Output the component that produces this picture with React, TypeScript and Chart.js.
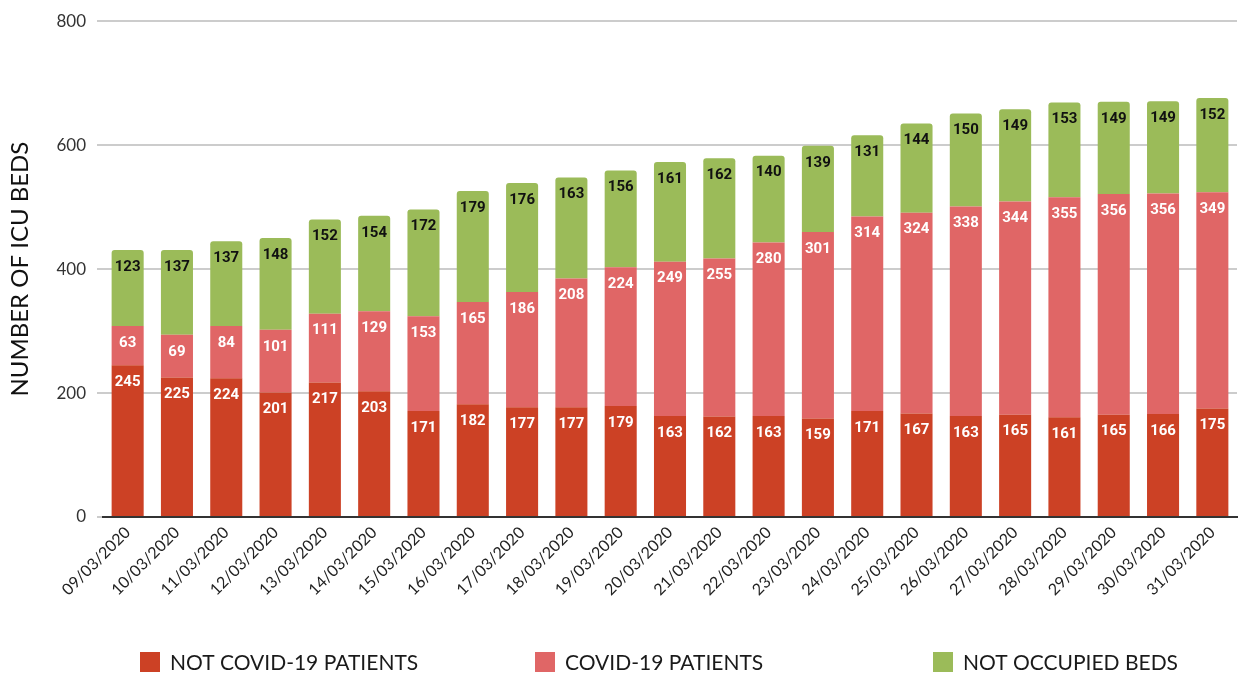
import React, { useEffect, useRef } from "react";
import { Chart, registerables } from "chart.js";
Chart.register(...registerables);

const categories = [
  "09/03/2020", "10/03/2020", "11/03/2020", "12/03/2020", "13/03/2020", "14/03/2020",
  "15/03/2020", "16/03/2020", "17/03/2020", "18/03/2020", "19/03/2020", "20/03/2020",
  "21/03/2020", "22/03/2020", "23/03/2020", "24/03/2020", "25/03/2020", "26/03/2020",
  "27/03/2020", "28/03/2020", "29/03/2020", "30/03/2020", "31/03/2020",
];
const notCovid = [245, 225, 224, 201, 217, 203, 171, 182, 177, 177, 179, 163, 162, 163, 159, 171, 167, 163, 165, 161, 165, 166, 175];
const covid = [63, 69, 84, 101, 111, 129, 153, 165, 186, 208, 224, 249, 255, 280, 301, 314, 324, 338, 344, 355, 356, 356, 349];
const notOccupied = [123, 137, 137, 148, 152, 154, 172, 179, 176, 163, 156, 161, 162, 140, 139, 131, 144, 150, 149, 153, 149, 149, 152];
const seriesNames = ["NOT COVID-19 PATIENTS", "COVID-19 PATIENTS", "NOT OCCUPIED BEDS"];
const seriesColors = ["#CC4125", "#E06666", "#9BBB59"];
const labelColors = ["#ffffff", "#ffffff", "#111111"];
const yTitle = "NUMBER OF ICU BEDS";
const yMax = 800;
const yStep = 200;

const valueLabels = {
  id: "valueLabels",
  afterDatasetsDraw(chart: any) {
    const ctx = chart.ctx;
    ctx.save();
    ctx.font = "bold 15px Roboto";
    ctx.textAlign = "center";
    ctx.textBaseline = "middle";
    chart.data.datasets.forEach((ds: any, di: number) => {
      const meta = chart.getDatasetMeta(di);
      meta.data.forEach((el: any, i: number) => {
        ctx.fillStyle = labelColors[di];
        ctx.fillText(String(ds.data[i]), el.x, el.y + 17);
      });
    });
    ctx.restore();
  },
};

const legendPlugin = {
  id: "customLegend",
  afterDraw(chart: any) {
    const ctx = chart.ctx;
    const xs = [140, 535, 933];
    const y = 662;
    ctx.save();
    ctx.font = "21px Lato";
    ctx.textBaseline = "middle";
    ctx.textAlign = "left";
    seriesNames.forEach((n, i) => {
      ctx.fillStyle = seriesColors[i];
      ctx.fillRect(xs[i], y - 10, 20, 20);
      ctx.fillStyle = "#1a1a1a";
      ctx.fillText(n, xs[i] + 30, y + 1);
    });
    ctx.restore();
  },
};

export default function App() {
  const ref = useRef<HTMLCanvasElement>(null);
  useEffect(() => {
    document.body.style.margin = "0";
    const chart = new Chart(ref.current!, {
      type: "bar",
      data: {
        labels: categories,
        datasets: [
          { label: seriesNames[0], data: notCovid, backgroundColor: seriesColors[0] },
          { label: seriesNames[1], data: covid, backgroundColor: seriesColors[1] },
          {
            label: seriesNames[2],
            data: notOccupied,
            backgroundColor: seriesColors[2],
            borderRadius: { topLeft: 3, topRight: 3, bottomLeft: 0, bottomRight: 0 },
            borderSkipped: "bottom",
          },
        ],
      },
      options: {
        animation: false,
        responsive: false,
        maintainAspectRatio: false,
        datasets: { bar: { barPercentage: 0.65, categoryPercentage: 1 } },
        layout: { padding: { top: 14, right: 6, bottom: 57, left: 0 } },
        plugins: { legend: { display: false }, tooltip: { enabled: false } },
        scales: {
          x: {
            stacked: true,
            grid: { display: false, drawTicks: false },
            border: { color: "#333333", width: 2 },
            ticks: {
              font: { family: "Lato", size: 16 },
              color: "#222222",
              minRotation: 45,
              maxRotation: 45,
              padding: 6,
              autoSkip: false,
            },
            afterFit: (s: any) => { s.height = 100; },
          },
          y: {
            stacked: true,
            min: 0,
            max: yMax,
            grid: { color: "#cccccc", lineWidth: 2, drawTicks: true, tickLength: 6, tickColor: "#cccccc" },
            border: { display: false },
            ticks: {
              stepSize: yStep,
              font: { family: "Lato", size: 17 },
              color: "#333333",
              padding: 11,
            },
            title: {
              display: true,
              text: yTitle,
              font: { family: "Lato", size: 24 },
              color: "#111111",
              padding: { top: 6, bottom: 0 },
            },
            afterFit: (s: any) => { s.width = 103; },
          },
        },
      },
      plugins: [valueLabels, legendPlugin],
    });
    return () => chart.destroy();
  }, []);
  return (
    <div style={{ width: 1243, height: 674 }}>
      <canvas ref={ref} width={1243} height={674} />
    </div>
  );
}
